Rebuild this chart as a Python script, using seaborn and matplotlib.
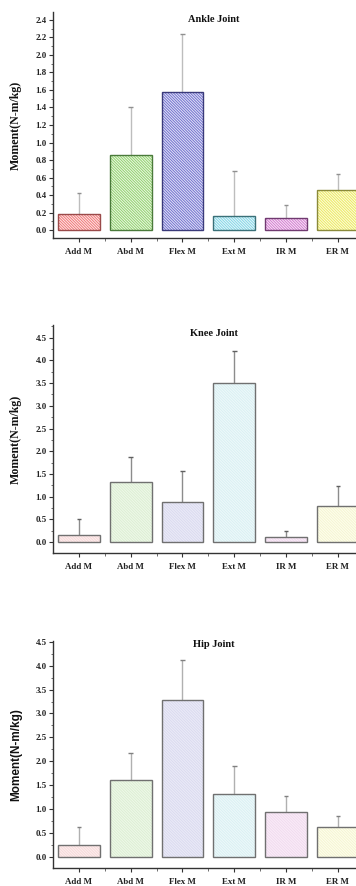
import matplotlib
matplotlib.use("Agg")
import matplotlib.pyplot as plt
import seaborn as sns
import pandas as pd
import numpy as np
from matplotlib.ticker import MultipleLocator

sns.set_style("white")
plt.rcParams['font.family'] = ['Liberation Serif', 'DejaVu Serif']
plt.rcParams['hatch.linewidth'] = 0.7

categories = ["Add M", "Abd M", "Flex M", "Ext M", "IR M", "ER M"]

ankle_mean = [0.18, 0.86, 1.58, 0.16, 0.14, 0.46]
ankle_top = [0.42, 1.41, 2.24, 0.67, 0.29, 0.64]
knee_mean = [0.15, 1.33, 0.88, 3.50, 0.12, 0.79]
knee_top = [0.50, 1.87, 1.56, 4.20, 0.25, 1.23]
hip_mean = [0.24, 1.61, 3.29, 1.31, 0.93, 0.62]
hip_top = [0.61, 2.18, 4.12, 1.89, 1.27, 0.86]

ankle_face = ['#fde8e8', '#ecf8e4', '#e4e4f6', '#e8f8fb', '#f9e6f7', '#fdfce0']
ankle_hatch = ['#f07878', '#92d170', '#7272d0', '#84d5e6', '#d27ed0', '#ecea62']
ankle_edge = ['#9a4a4a', '#4a7a3a', '#3a3a7a', '#3a7078', '#703a70', '#8a8a3a']
pale_face = ['#fdeeee', '#eff8ea', '#ececf7', '#eff9fa', '#faedf8', '#fefeee']
pale_hatch = ['#f6dada', '#dcefd3', '#dadaf0', '#d9f0f3', '#f1dbef', '#f5f5d2']
pale_edge = ['#707070'] * 6

W, H = 356, 886
fig = plt.figure(figsize=(W / 100, H / 100), dpi=100)

def px_axes(top_px, bottom_px):
    left = 53 / W
    width = 6 * 51.8 / W
    return [left, 1 - bottom_px / H, width, (bottom_px - top_px) / H]

panels = [
    dict(title="Ankle Joint", mean=ankle_mean, top=ankle_top, face=ankle_face,
         hatch=ankle_hatch, edge=ankle_edge, ylim=(-0.09, 2.49), major=0.2, minor=0.1,
         pos=px_axes(12, 238), fmt="%.1f", title_y=2.40, errc='#bdbdbd', capc='#909090',
         ylabel_font=['Liberation Serif'], ylsize=8.6),
    dict(title="Knee Joint", mean=knee_mean, top=knee_top, face=pale_face,
         hatch=pale_hatch, edge=pale_edge, ylim=(-0.24, 4.78), major=0.5, minor=0.25,
         pos=px_axes(325, 553), fmt="%.1f", title_y=4.60, errc='#8c8c8c', capc='#606060',
         ylabel_font=['Liberation Serif'], ylsize=8.6),
    dict(title="Hip Joint", mean=hip_mean, top=hip_top, face=pale_face,
         hatch=pale_hatch, edge=pale_edge, ylim=(-0.24, 4.52), major=0.5, minor=0.25,
         pos=px_axes(641, 868), fmt="%.1f", title_y=4.45, errc='#b0b0b0', capc='#808080',
         ylabel_font=['Liberation Sans'], ylsize=8.5),
]

for p in panels:
    ax = fig.add_axes(p['pos'])
    df = pd.DataFrame({"cat": categories, "val": p['mean']})
    sns.barplot(data=df, x="cat", y="val", order=categories, ax=ax,
                width=0.81, errorbar=None, zorder=2)
    for patch, fc, hc in zip(ax.patches, p['face'], p['hatch']):
        patch.set_facecolor(fc)
        patch.set_edgecolor(hc)
        patch.set_hatch('\\' * 12)
        patch.set_linewidth(0)
    n0 = len(ax.patches)
    sns.barplot(data=df, x="cat", y="val", order=categories, ax=ax,
                width=0.81, errorbar=None, fill=False, zorder=3)
    for patch, ec in zip(ax.patches[n0:], p['edge']):
        patch.set_edgecolor(ec)
        patch.set_linewidth(1.0)
        patch.set_facecolor('none')
    x = np.arange(len(categories))
    mean = np.array(p['mean'])
    upper = np.array(p['top']) - mean
    ax.errorbar(x, mean, yerr=[np.zeros_like(upper), upper], fmt='none',
                ecolor=p['errc'], elinewidth=1.0, capsize=0, zorder=1)
    ax.errorbar(x, p['top'], fmt='none', xerr=0.045, ecolor=p['capc'],
                elinewidth=1.0, zorder=1)
    ax.set_xlim(-0.5, 5.5)
    ax.set_ylim(*p['ylim'])
    ax.yaxis.set_minor_locator(MultipleLocator(p['minor']))
    ax.set_xticks(x)
    ax.set_xticks(x[:-1] + 0.5, minor=True)
    ax.set_xticklabels(categories)
    yt = list(np.arange(0, p['ylim'][1] + 1e-9, p['major']))
    ax.set_yticks(yt)
    ax.yaxis.set_major_formatter(matplotlib.ticker.FormatStrFormatter(p['fmt']))
    for s in ['top', 'right']:
        ax.spines[s].set_visible(False)
    for s in ['left', 'bottom']:
        ax.spines[s].set_color('#333333')
        ax.spines[s].set_linewidth(1.0)
    ax.tick_params(axis='both', which='major', direction='out', length=3, width=0.8,
                   color='#333333', labelsize=6.4, pad=1.5, left=True, bottom=True)
    ax.tick_params(axis='both', which='minor', direction='out', length=1.8, width=0.6,
                   color='#555555', left=True, bottom=True)
    ax.tick_params(axis='x', which='major', pad=4)
    for lab in ax.get_xticklabels() + ax.get_yticklabels():
        lab.set_fontweight('bold')
        lab.set_color('#222222')
    ax.set_xlabel("")
    ax.set_ylabel("Moment(N-m/kg)", fontsize=p['ylsize'], fontweight='bold',
                  family=p['ylabel_font'], color='#111111')
    ax.yaxis.set_label_coords(-31 / (6 * 51.8), 0.5)
    ax.text(2.6, p['title_y'], p['title'], ha='center', va='center', fontsize=7.5,
            fontweight='bold', color='#111111')
    ax.grid(False)

fig.savefig("out.png", dpi=100)
